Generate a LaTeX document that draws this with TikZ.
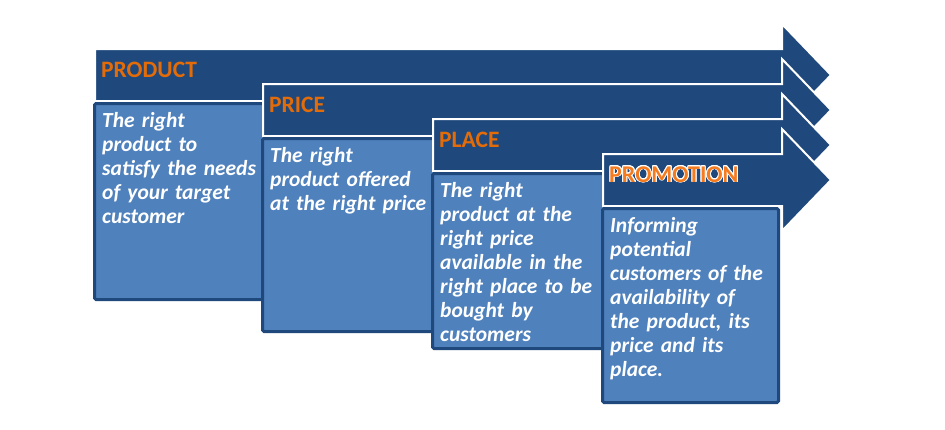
\documentclass[tikz,border=0pt]{standalone}
\usepackage{fontspec}
\setmainfont{Carlito}
\usepackage{contour}
\usetikzlibrary{positioning}
\definecolor{mixdark}{HTML}{1F497D}
\definecolor{mixmid}{HTML}{4F81BD}
\definecolor{mixorange}{HTML}{E36C09}
\definecolor{promoorange}{HTML}{F47B20}
\contourlength{0.9pt}
\newcommand{\promotitle}[1]{{\fontsize{24}{28}\selectfont\color{promoorange}\contour{white}{#1}}}

\tikzset{
  mixarrow/.style={fill=mixdark, draw=white, line width=2pt, line join=miter},
  mixbox/.style={fill=mixmid, draw=mixdark, line width=3pt, rounded corners=1.5pt,
    anchor=north west, minimum width=176pt, inner sep=0pt},
  mixtext/.style={anchor=north west, inner sep=0pt, text width=172pt, align=left,
    text=white, font=\fontsize{21.5}{24}\selectfont\bfseries\itshape},
  mixtitle/.style={anchor=base west, inner sep=0pt, text=mixorange,
    font=\fontsize{23.5}{28}\selectfont\bfseries}
}

\begin{document}
\begin{tikzpicture}[x=1pt, y=-1pt]
    \useasboundingbox (0,0) rectangle (945,429);
    % one arrow and one box for each P, back to front
    \foreach \n/\lx/\cy/\bh/\ttl/\txt in {
        1/95/75/196/PRODUCT/{The right\\product to\\satisfy the needs\\of your target\\customer},
        2/263/110/193/PRICE/{The right\\product offered\\at the right price},
        3/433/145/175/PLACE/{The right\\product at the\\right price\\available in the\\right place to be\\bought by\\customers},
        4/603/180/194/{\promotitle{PROMOTION}}/{Informing\\potential\\customers of the\\availability of\\the product, its\\price and its\\place.}} {
        \draw[mixarrow] (\lx,\cy-26) -- (782,\cy-26) -- (782,\cy-51) -- (831,\cy)
            -- (782,\cy+51) -- (782,\cy+26) -- (\lx,\cy+26) -- cycle;
        \node[mixtitle] (title\n) at (\lx+6,\cy+2) {\ttl};
        \node[mixbox, minimum height=\bh pt] (box\n) at (\lx-2,\cy+27) {};
        \node[mixtext] (text\n) at ([xshift=9pt, yshift=-10pt]box\n.north west) {\txt};
    }
\end{tikzpicture}
\end{document}
